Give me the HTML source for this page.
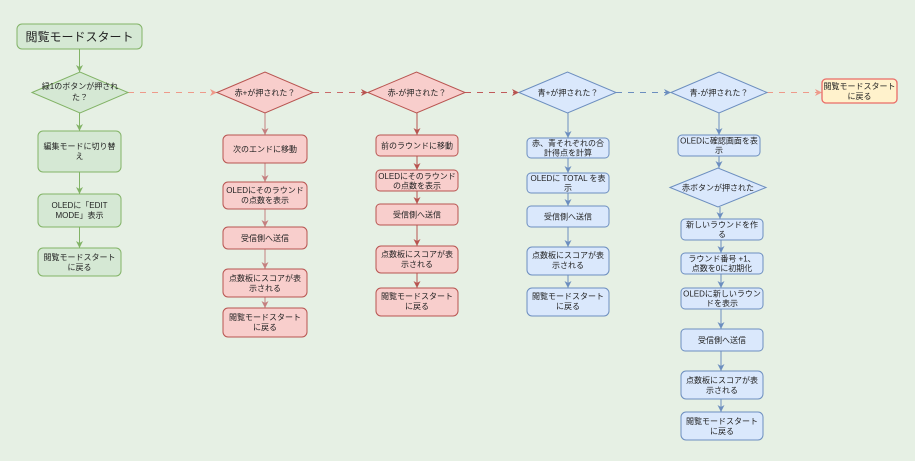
<!DOCTYPE html>
<html><head><meta charset="utf-8"><style>
html,body{margin:0;padding:0;background:#e6f0e4;}
svg{display:block;}
text{font-family:"Liberation Sans","Noto Sans CJK JP",sans-serif;font-size:8px;fill:#222;text-anchor:middle;}
</style></head><body>
<svg width="915" height="461" viewBox="0 0 915 461" xmlns="http://www.w3.org/2000/svg">
<defs>
<marker id="mg" markerWidth="8" markerHeight="8" refX="7" refY="3.5" orient="auto" markerUnits="userSpaceOnUse"><path d="M0,0 L7,3.5 L0,7 L2,3.5 Z" fill="#82b366"/></marker>
<marker id="mr" markerWidth="8" markerHeight="8" refX="7" refY="3.5" orient="auto" markerUnits="userSpaceOnUse"><path d="M0,0 L7,3.5 L0,7 L2,3.5 Z" fill="#b85450"/></marker>
<marker id="mp" markerWidth="8" markerHeight="8" refX="7" refY="3.5" orient="auto" markerUnits="userSpaceOnUse"><path d="M0,0 L7,3.5 L0,7 L2,3.5 Z" fill="#c47f7f"/></marker>
<marker id="ms" markerWidth="8" markerHeight="8" refX="7" refY="3.5" orient="auto" markerUnits="userSpaceOnUse"><path d="M0,0 L7,3.5 L0,7 L2,3.5 Z" fill="#ee9a8a"/></marker>
<marker id="mb" markerWidth="8" markerHeight="8" refX="7" refY="3.5" orient="auto" markerUnits="userSpaceOnUse"><path d="M0,0 L7,3.5 L0,7 L2,3.5 Z" fill="#6c8ebf"/></marker>
</defs>

<g fill="none" stroke-width="1.1" stroke-dasharray="6 6">
<line x1="128" y1="92.5" x2="217" y2="92.5" stroke="#ee9a8a" marker-end="url(#ms)"/>
<line x1="313" y1="92.5" x2="368" y2="92.5" stroke="#c96a6a" marker-end="url(#mr)"/>
<line x1="465" y1="92.5" x2="519" y2="92.5" stroke="#c05a5a" marker-end="url(#mr)"/>
<line x1="616" y1="92.5" x2="671" y2="92.5" stroke="#6c8ebf" marker-end="url(#mb)"/>
<line x1="767" y1="92.5" x2="822" y2="92.5" stroke="#ee9a8a" marker-end="url(#ms)"/>
</g>

<g fill="none" stroke-width="1">
<g stroke="#82b366">
<line x1="79.5" y1="49" x2="79.5" y2="72" marker-end="url(#mg)"/>
<line x1="79.5" y1="113" x2="79.5" y2="131" marker-end="url(#mg)"/>
<line x1="79.5" y1="172" x2="79.5" y2="194" marker-end="url(#mg)"/>
<line x1="79.5" y1="227" x2="79.5" y2="248" marker-end="url(#mg)"/>
</g>
<g stroke="#c47f7f">
<line x1="265" y1="113" x2="265" y2="135" marker-end="url(#mp)"/>
<line x1="265" y1="163" x2="265" y2="182" marker-end="url(#mp)"/>
<line x1="265" y1="209" x2="265" y2="227" marker-end="url(#mp)"/>
<line x1="265" y1="249" x2="265" y2="269" marker-end="url(#mp)"/>
<line x1="265" y1="297" x2="265" y2="308" marker-end="url(#mp)"/>
</g>
<g stroke="#b85450">
<line x1="417" y1="113" x2="417" y2="135" marker-end="url(#mr)"/>
<line x1="417" y1="156" x2="417" y2="170" marker-end="url(#mr)"/>
<line x1="417" y1="191" x2="417" y2="204" marker-end="url(#mr)"/>
<line x1="417" y1="225" x2="417" y2="246" marker-end="url(#mr)"/>
<line x1="417" y1="273" x2="417" y2="288" marker-end="url(#mr)"/>
</g>
<g stroke="#6c8ebf">
<line x1="568" y1="113" x2="568" y2="138" marker-end="url(#mb)"/>
<line x1="568" y1="158" x2="568" y2="173" marker-end="url(#mb)"/>
<line x1="568" y1="193" x2="568" y2="206" marker-end="url(#mb)"/>
<line x1="568" y1="227" x2="568" y2="247" marker-end="url(#mb)"/>
<line x1="568" y1="275" x2="568" y2="288" marker-end="url(#mb)"/>
<line x1="719" y1="113" x2="719" y2="135" marker-end="url(#mb)"/>
<line x1="719" y1="156" x2="719" y2="168" marker-end="url(#mb)"/>
<line x1="720" y1="207" x2="720" y2="219" marker-end="url(#mb)"/>
<line x1="721" y1="240" x2="721" y2="253" marker-end="url(#mb)"/>
<line x1="721" y1="274" x2="721" y2="288" marker-end="url(#mb)"/>
<line x1="721" y1="309" x2="721" y2="329" marker-end="url(#mb)"/>
<line x1="721" y1="351" x2="721" y2="371" marker-end="url(#mb)"/>
<line x1="721" y1="399" x2="721" y2="412" marker-end="url(#mb)"/>
</g>
</g>

<g fill="#d5e8d4" stroke="#82b366" stroke-width="1">
<rect x="17" y="24" width="125" height="25" rx="5"/>
<polygon points="32,92.5 80,72 128,92.5 80,113"/>
<rect x="38" y="131" width="83" height="41" rx="5"/>
<rect x="38" y="194" width="83" height="33" rx="5"/>
<rect x="38" y="248" width="83" height="28" rx="5"/>
</g>
<text x="79.5" y="41" style="font-size:12px">閲覧モードスタート</text>
<text x="80" y="89">緑1のボタンが押され</text>
<text x="80" y="100">た？</text>
<text x="79.5" y="149">編集モードに切り替</text>
<text x="79.5" y="159">え</text>
<text x="79.5" y="208">OLEDに「EDIT</text>
<text x="79.5" y="218">MODE」表示</text>
<text x="79.5" y="260">閲覧モードスタート</text>
<text x="79.5" y="270">に戻る</text>

<g fill="#f8cecc" stroke="#b85450" stroke-width="1">
<polygon points="217,92.5 265,72 313,92.5 265,113"/>
<rect x="223" y="135" width="84" height="28" rx="5"/>
<rect x="223" y="182" width="84" height="27" rx="5"/>
<rect x="223" y="227" width="84" height="22" rx="5"/>
<rect x="223" y="269" width="84" height="28" rx="5"/>
<rect x="223" y="308" width="84" height="29" rx="5"/>
</g>
<text x="265" y="95.5">赤+が押された？</text>
<text x="265" y="152">次のエンドに移動</text>
<text x="265" y="193">OLEDにそのラウンド</text>
<text x="265" y="203">の点数を表示</text>
<text x="265" y="241">受信側へ送信</text>
<text x="265" y="281">点数板にスコアが表</text>
<text x="265" y="291">示される</text>
<text x="265" y="320">閲覧モードスタート</text>
<text x="265" y="330">に戻る</text>

<g fill="#f8cecc" stroke="#b85450" stroke-width="1">
<polygon points="368,92.5 416.5,72 465,92.5 416.5,113"/>
<rect x="376" y="135" width="82" height="21" rx="4"/>
<rect x="376" y="170" width="82" height="21" rx="4"/>
<rect x="376" y="204" width="82" height="21" rx="4"/>
<rect x="376" y="246" width="82" height="27" rx="5"/>
<rect x="376" y="288" width="82" height="28" rx="5"/>
</g>
<text x="417" y="95.5">赤-が押された？</text>
<text x="417" y="148.5">前のラウンドに移動</text>
<text x="417" y="179">OLEDにそのラウンド</text>
<text x="417" y="188.5">の点数を表示</text>
<text x="417" y="217.5">受信側へ送信</text>
<text x="417" y="257">点数板にスコアが表</text>
<text x="417" y="267">示される</text>
<text x="417" y="299">閲覧モードスタート</text>
<text x="417" y="309">に戻る</text>

<g fill="#dae8fc" stroke="#6c8ebf" stroke-width="1">
<polygon points="519,92.5 567.5,72 616,92.5 567.5,113"/>
<rect x="527" y="138" width="82" height="20" rx="4"/>
<rect x="527" y="173" width="82" height="20" rx="4"/>
<rect x="527" y="206" width="82" height="21" rx="4"/>
<rect x="527" y="247" width="82" height="28" rx="5"/>
<rect x="527" y="288" width="82" height="28" rx="5"/>
</g>
<text x="568" y="95.5">青+が押された？</text>
<text x="568" y="146">赤、青それぞれの合</text>
<text x="568" y="155.5">計得点を計算</text>
<text x="568" y="181">OLEDに TOTAL を表</text>
<text x="568" y="190.5">示</text>
<text x="568" y="219.5">受信側へ送信</text>
<text x="568" y="258">点数板にスコアが表</text>
<text x="568" y="268">示される</text>
<text x="568" y="299">閲覧モードスタート</text>
<text x="568" y="309">に戻る</text>

<g fill="#dae8fc" stroke="#6c8ebf" stroke-width="1">
<polygon points="671,92.5 719,72 767,92.5 719,113"/>
<rect x="678" y="135" width="82" height="21" rx="4"/>
<polygon points="670,187.5 718,168 766,187.5 718,207"/>
<rect x="681" y="219" width="82" height="21" rx="4"/>
<rect x="681" y="253" width="82" height="21" rx="4"/>
<rect x="681" y="288" width="82" height="21" rx="4"/>
<rect x="681" y="329" width="82" height="22" rx="4"/>
<rect x="681" y="371" width="82" height="28" rx="5"/>
<rect x="681" y="412" width="82" height="28" rx="5"/>
</g>
<text x="719" y="95.5">青-が押された？</text>
<text x="719" y="143.5">OLEDに確認画面を表</text>
<text x="719" y="153">示</text>
<text x="718" y="190.5">赤ボタンが押された</text>
<text x="722" y="227.5">新しいラウンドを作</text>
<text x="722" y="237">る</text>
<text x="722" y="261.5">ラウンド番号 +1、</text>
<text x="722" y="271">点数を0に初期化</text>
<text x="722" y="296.5">OLEDに新しいラウン</text>
<text x="722" y="306">ドを表示</text>
<text x="722" y="343">受信側へ送信</text>
<text x="722" y="383">点数板にスコアが表</text>
<text x="722" y="393">示される</text>
<text x="722" y="424">閲覧モードスタート</text>
<text x="722" y="434">に戻る</text>

<rect x="822" y="79" width="75" height="24" rx="4" fill="#fff2cc" stroke="#ea6b66" stroke-width="1.3"/>
<text x="859.5" y="89">閲覧モードスタート</text>
<text x="859.5" y="99">に戻る</text>
</svg>
</body></html>
